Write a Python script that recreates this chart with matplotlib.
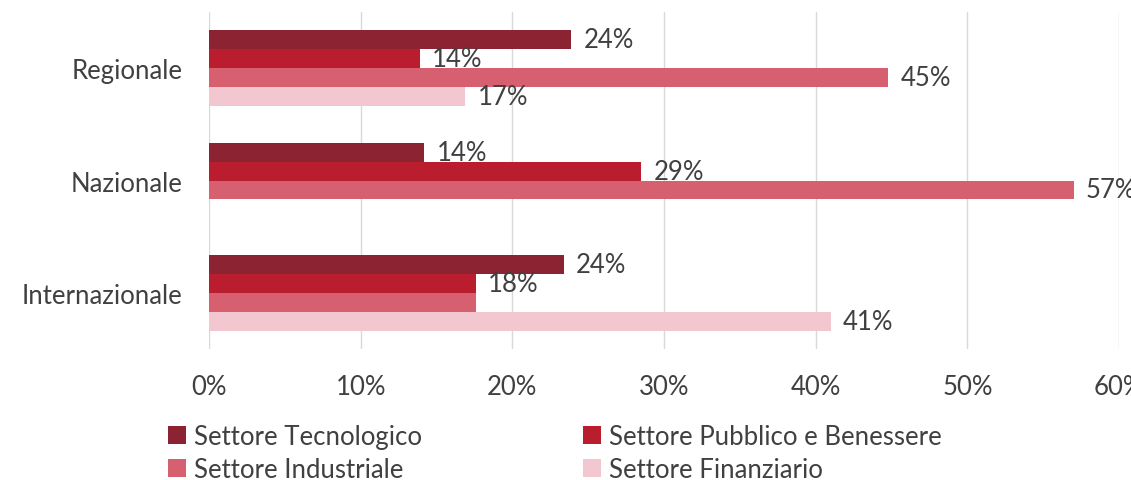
import matplotlib.pyplot as plt
import numpy as np

plt.rcParams['font.family'] = ['Lato', 'DejaVu Sans']

categorie = ["Regionale", "Nazionale", "Internazionale"]
serie = ["Settore Tecnologico", "Settore Pubblico e Benessere",
         "Settore Industriale", "Settore Finanziario"]
tecnologico = [23.9, 14.2, 23.4]
pubblico = [13.9, 28.5, 17.6]
industriale = [44.8, 57.0, 17.6]
finanziario = [16.9, 0.0, 41.0]
etichette = [["24%", "14%", "24%"],
             ["14%", "29%", "18%"],
             ["45%", "57%", ""],
             ["17%", "", "41%"]]
colori = ["#8B2332", "#BA1D2D", "#D65F70", "#F2C7CF"]
testo = "#404040"
fs = 18.5

valori = [tecnologico, pubblico, industriale, finanziario]

fig = plt.figure(figsize=(11.31, 4.81), dpi=100)
ax = fig.add_axes([0.1848, 0.2723, 0.8046, 0.7007])

y = np.arange(len(categorie))
h = 0.168
barre = []
for i, (vals, col) in enumerate(zip(valori, colori)):
    pos = y + (i - 1.5) * h
    b = ax.barh(pos, vals, height=h, color=col, label=serie[i], zorder=2)
    barre.append(b)
    for p, v, t in zip(pos, vals, etichette[i]):
        if t:
            ax.text(v + 0.8, p, t, va="center", ha="left",
                    fontsize=fs, color=testo, zorder=3)

ax.set_xlim(0, 60)
ax.set_ylim(2.5, -0.5)
ax.set_yticks(y)
ax.set_yticklabels(categorie)
ax.set_xticks(np.arange(0, 61, 10))
ax.set_xticklabels([f"{t}%" for t in range(0, 61, 10)])
ax.tick_params(length=0, labelsize=fs, labelcolor=testo)
ax.tick_params(axis="y", pad=19)
ax.tick_params(axis="x", pad=18)
ax.grid(axis="x", color="#D9D9D9", linewidth=1, zorder=0)
for s in ax.spines.values():
    s.set_visible(False)

ordine = [0, 2, 1, 3]
fig.legend([barre[k] for k in ordine], [serie[k] for k in ordine],
           ncol=2, loc="lower left", bbox_to_anchor=(0.128, -0.052),
           frameon=False, fontsize=fs, labelcolor=testo,
           handlelength=0.7, handleheight=0.7, handletextpad=0.3,
           columnspacing=6.3, labelspacing=0.3)

fig.savefig("out.png", dpi=100)
